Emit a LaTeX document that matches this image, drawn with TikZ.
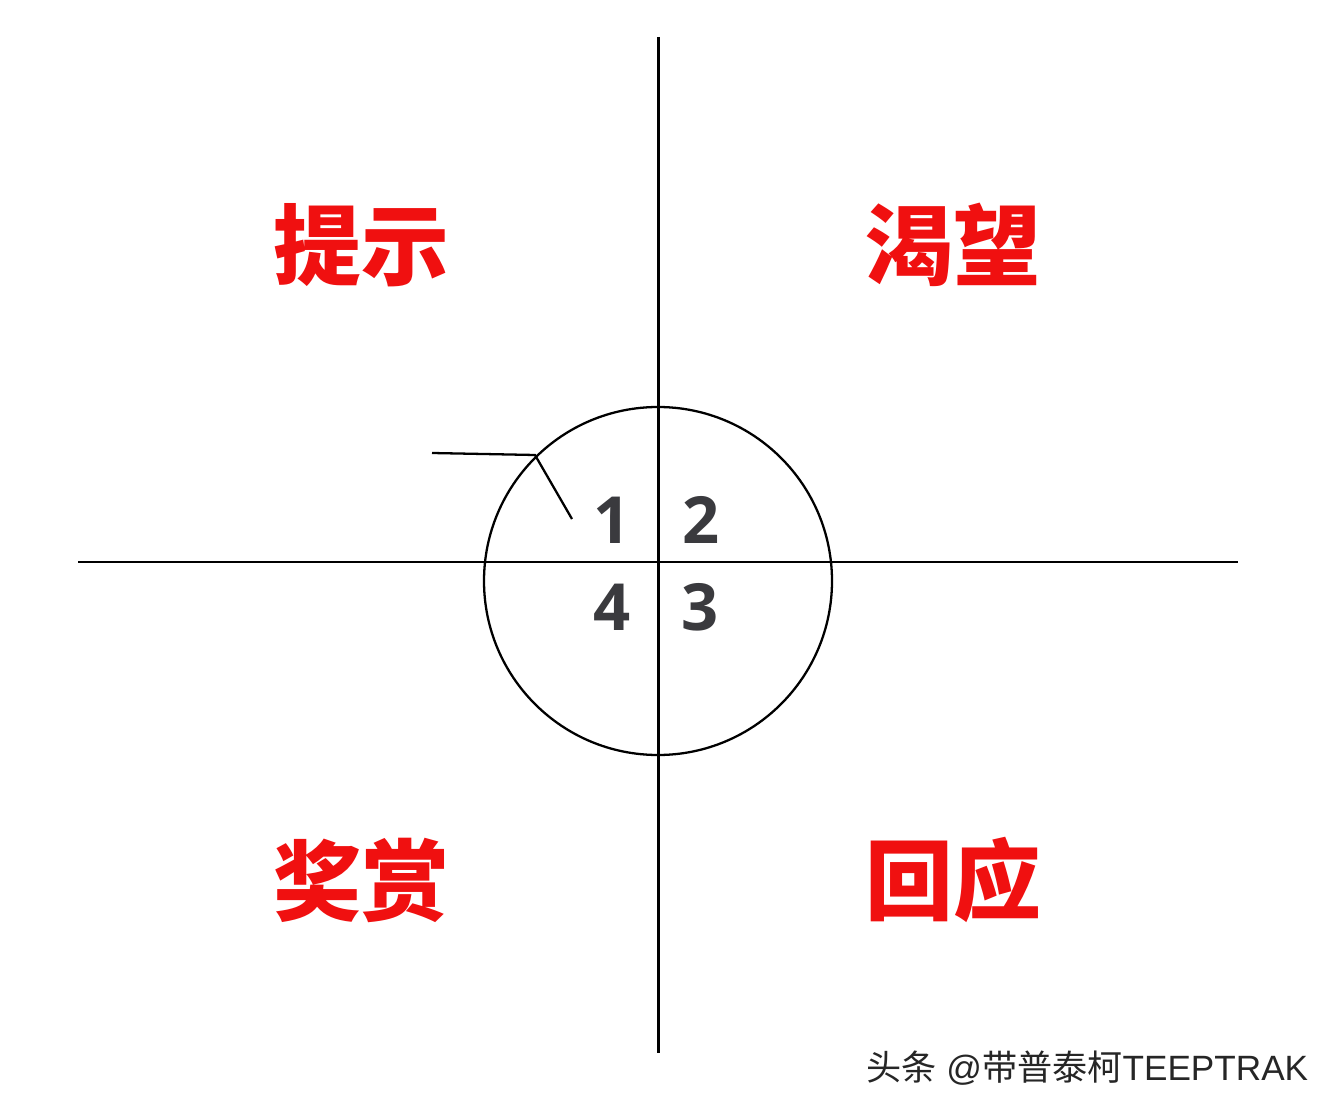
\documentclass[tikz,border=0pt]{standalone}
\usepackage{fontspec}
\newfontfamily\cjk{Noto Sans CJK SC}
\newfontfamily\latinwm{Liberation Sans}
\newfontfamily\numfont{Open Sans}
\definecolor{numgray}{HTML}{3A3A3E}
\definecolor{lblred}{HTML}{F01010}
\begin{document}
\begin{tikzpicture}[x=0.02cm,y=-0.02cm,
  axis/.style={line width=1.7pt,black},
  ringline/.style={line width=1.3pt,black},
  quadlabel/.style={text=lblred,font=\cjk\bfseries\fontsize{50}{50}\selectfont,inner sep=0pt},
  numlabel/.style={text=numgray,font=\numfont\bfseries\fontsize{37}{37}\selectfont,inner sep=0pt},
  watermark/.style={text=black!85,font=\cjk\fontsize{20}{20}\selectfont,inner sep=0pt,anchor=west}]
\useasboundingbox[fill=white] (0,0) rectangle (1342,1114);
% axes
\coordinate (vtop) at (658,37);
\coordinate (vbot) at (658,1053);
\coordinate (hleft) at (78,562);
\coordinate (hright) at (1238,562);
\draw[axis] (vtop) -- (vbot);
\draw[axis] (hleft) -- (hright);
% circle
\node[ringline,draw,circle,minimum size=348*0.02cm,inner sep=0pt] (ring) at (658,581) {};
% leader
\coordinate (la) at (432,453);
\coordinate (lb) at (535,455);
\coordinate (lc) at (572,519);
\draw[line width=1.3pt] (la) -- (lb) -- (lc);
% numbers
\node[numlabel] (n1) at (612,520) {1};
\node[numlabel] (n2) at (701,520) {2};
\node[numlabel] (n4) at (612,607) {4};
\node[numlabel] (n3) at (700,607) {3};
% quadrant labels
\node[quadlabel] (q1) at (361,245) {提示};
\node[quadlabel] (q2) at (953,245) {渴望};
\node[quadlabel] (q4) at (361,880) {奖赏};
\node[quadlabel] (q3) at (953,880) {回应};
% watermark
\node[watermark] (wm) at (866,1068) {头条{\latinwm\ @}带普泰柯{\latinwm TEEPTRAK}};
\end{tikzpicture}
\end{document}
